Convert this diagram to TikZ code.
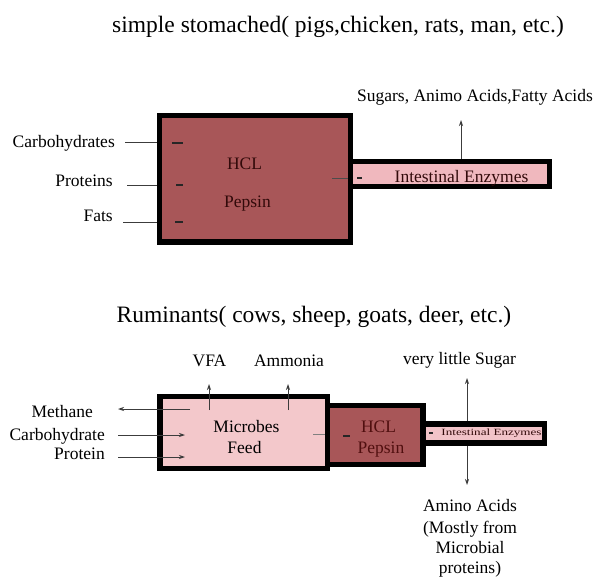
\documentclass[tikz,border=0pt]{standalone}
\usepackage{fontspec}
\setmainfont{Liberation Serif}
\usetikzlibrary{arrows.meta}
\definecolor{stomred}{RGB}{168,86,88}
\definecolor{intpink}{RGB}{240,184,190}
\definecolor{rumpink}{RGB}{243,200,203}
\definecolor{txtdark}{RGB}{50,10,10}
\definecolor{txtred}{RGB}{80,15,15}
\definecolor{linegray}{RGB}{60,60,60}
\begin{document}
\begin{tikzpicture}[x=1pt,y=-1pt,
  lbl/.style={font=\fontsize{17.5}{21}\selectfont, inner sep=0, text=black},
  ttl/.style={font=\fontsize{23.5}{28}\selectfont, inner sep=0, text=black},
  organ/.style={draw=black, line width=5pt, inner sep=0, outer sep=0},
  thinln/.style={draw=linegray, line width=0.8pt},
  arr/.style={thinln, -{Stealth[length=6pt,width=4pt]}},
  darr/.style={thinln, {Stealth[length=6pt,width=4pt]}-{Stealth[length=6pt,width=4pt]}},
  tickmk/.style={draw=black!85, line width=1.4pt},
]
\useasboundingbox[fill=white] (0,0) rectangle (599,577);

% ---------------- simple stomached ----------------
\node[ttl, anchor=base] (t1) at (338,33) {simple stomached( pigs,chicken, rats, man, etc.)};

\node[organ, fill=intpink, minimum width=204.5pt, minimum height=25pt] (int1) at (447.25,174) {};
\node[organ, fill=stomred, minimum width=191pt, minimum height=126pt] (stom) at (254.5,179) {};

\node[lbl, anchor=base, text=txtdark] (hcl1) at (244.5,170) {HCL};
\node[lbl, anchor=base, text=txtdark] (pep1) at (247.5,208) {Pepsin};
\node[lbl, anchor=base, text=txtdark] (ie1) at (461.5,183) {Intestinal Enzymes};
\node[lbl, anchor=base] (sug1) at (475,102) {Sugars, Animo Acids,Fatty Acids};

\node[lbl, anchor=base east] (carb1) at (115,148) {Carbohydrates};
\node[lbl, anchor=base east] (prot1) at (113,187) {Proteins};
\node[lbl, anchor=base east] (fats1) at (113,222) {Fats};

\coordinate (c1a) at (125,142); \coordinate (c1b) at (157,142);
\coordinate (p1a) at (127,185); \coordinate (p1b) at (157,185);
\coordinate (f1a) at (123,222); \coordinate (f1b) at (157,222);
\draw[thinln] (c1a) -- (c1b);
\draw[thinln] (p1a) -- (p1b);
\draw[thinln] (f1a) -- (f1b);
\draw[tickmk] (172,143) -- (183,143);
\draw[tickmk] (176,185) -- (183,185);
\draw[tickmk] (175,222) -- (183,222);

\coordinate (si1) at (332,178); \coordinate (si2) at (348,178);
\draw[draw=black!70, line width=0.8pt] (si1) -- (si2);
\draw[tickmk] (357,178) -- (362,178);

\coordinate (up1a) at (461,159); \coordinate (up1b) at (461,120);
\draw[arr] (up1a) -- (up1b);

% ---------------- ruminants ----------------
\node[ttl, anchor=base] (t2) at (314,322) {Ruminants( cows, sheep, goats, deer, etc.)};

\node[lbl, anchor=base] (vfa) at (209.5,366) {VFA};
\node[lbl, anchor=base] (amm) at (289,366) {Ammonia};
\node[lbl, anchor=base] (vls) at (459.5,364) {very little Sugar};

\coordinate (va) at (467,378); \coordinate (vb) at (467,485);
\draw[darr] (va) -- (vb);

\node[organ, line width=5.5pt, fill=intpink!85!white, minimum width=129.5pt, minimum height=19pt] (int2) at (479.75,433.5) {};
\node[organ, line width=5.5pt, fill=stomred, minimum width=103pt, minimum height=59pt] (hcl2box) at (371.5,435) {};
\node[organ, line width=5.5pt, fill=rumpink, minimum width=167.5pt, minimum height=72pt] (rumen) at (243.75,432.5) {};

\node[lbl, anchor=base] (mic) at (246.5,432) {Microbes};
\node[lbl, anchor=base] (feed) at (244.5,453) {Feed};
\node[lbl, anchor=base, text=txtred] (hcl2) at (378.5,432) {HCL};
\node[lbl, anchor=base, text=txtred] (pep2) at (381,453) {Pepsin};
\node[inner sep=0, text=txtdark, font=\fontsize{9.5}{9.5}\selectfont] (ie2) at (491.5,433) {\scalebox{1.38}[1]{Intestinal Enzymes}};

\coordinate (vfa1) at (209,410); \coordinate (vfa2) at (209,384);
\coordinate (amm1) at (288,410); \coordinate (amm2) at (288,384);
\draw[arr] (vfa1) -- (vfa2);
\draw[arr] (amm1) -- (amm2);

\node[lbl, anchor=base east] (meth) at (93,417) {Methane};
\node[lbl, anchor=base east] (carb2) at (105,440) {Carbohydrate};
\node[lbl, anchor=base east] (prot2) at (105,459) {Protein};

\coordinate (m1) at (190,409); \coordinate (m2) at (118,409);
\coordinate (cb1) at (118,435); \coordinate (cb2) at (185,435);
\coordinate (pr1) at (118,457); \coordinate (pr2) at (185,457);
\draw[arr] (m1) -- (m2);
\draw[arr] (cb1) -- (cb2);
\draw[arr] (pr1) -- (pr2);

\coordinate (rh1) at (313,434); \coordinate (rh2) at (325,434);
\draw[draw=black!50, line width=0.8pt] (rh1) -- (rh2);
\draw[tickmk] (343,436) -- (350,436);
\draw[tickmk, line width=1.2pt] (429,433) -- (433,433);

\node[lbl, anchor=base] (am1) at (470,511) {Amino Acids};
\node[lbl, anchor=base] (am2) at (470,533) {(Mostly from};
\node[lbl, anchor=base] (am3) at (470,553) {Microbial};
\node[lbl, anchor=base] (am4) at (470,573) {proteins)};
\end{tikzpicture}
\end{document}
